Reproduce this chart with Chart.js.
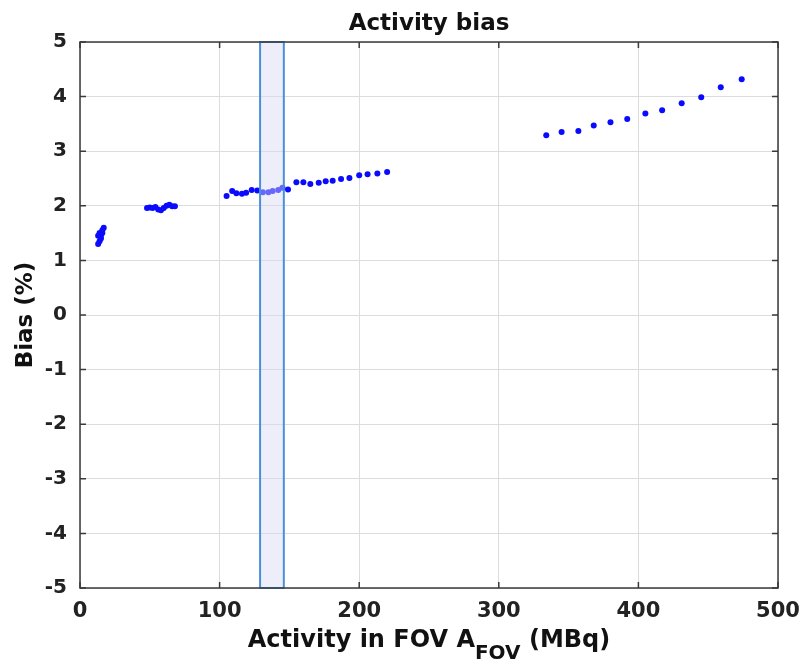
<!DOCTYPE html>
<html>
<head>
<meta charset="utf-8">
<script src="https://cdn.jsdelivr.net/npm/chart.js@4"></script>
<style>
  html, body { margin: 0; padding: 0; background: #fff; }
  canvas { display: block; }
</style>
</head>
<body>
<canvas id="chartBias" width="805" height="669"></canvas>
<script>
// datos
const actividad = [
  13, 14, 13, 15, 16, 17, 14, 15, 16,
  48, 50, 52, 54, 56, 58, 60, 62, 64, 66, 68,
  105, 109, 112, 116, 119, 123, 127, 131, 135, 138, 142, 145, 149, 155, 160, 165, 171, 176, 181, 187, 193, 200, 206, 213, 220,
  334, 345, 357, 368, 380, 392, 405, 417, 431, 445, 459, 474
];
const bias = [
  1.45, 1.35, 1.30, 1.40, 1.50, 1.60, 1.50, 1.45, 1.55,
  1.96, 1.97, 1.96, 1.98, 1.93, 1.92, 1.96, 2.00, 2.02, 1.99, 1.99,
  2.18, 2.27, 2.23, 2.22, 2.24, 2.29, 2.28, 2.25, 2.25, 2.27, 2.29, 2.33, 2.30, 2.43, 2.43, 2.40, 2.42, 2.45, 2.46, 2.49, 2.51, 2.56, 2.58, 2.59, 2.62,
  3.29, 3.35, 3.37, 3.47, 3.53, 3.59, 3.69, 3.75, 3.88, 3.99, 4.17, 4.32
];
const banda = [129, 146]; // zona sombreada (MBq)
const xTicks = [0, 100, 200, 300, 400, 500];
const yTicks = [-5, -4, -3, -2, -1, 0, 1, 2, 3, 4, 5];

const FONT = '"DejaVu Sans", sans-serif';
const puntos = actividad.map((a, i) => ({ x: a, y: bias[i] }));

const decoracion = {
  id: "decoracion",
  afterDatasetsDraw(chart) {
    const { ctx, chartArea: ca, scales } = chart;
    const x0 = scales.x.getPixelForValue(banda[0]);
    const x1 = scales.x.getPixelForValue(banda[1]);
    ctx.save();
    ctx.fillStyle = "rgba(215,218,245,0.45)";
    ctx.fillRect(x0, ca.top, x1 - x0, ca.bottom - ca.top);
    ctx.strokeStyle = "#4a8fdc";
    ctx.lineWidth = 2;
    ctx.strokeRect(x0, ca.top, x1 - x0, ca.bottom - ca.top);

    // caja y ticks hacia adentro
    ctx.strokeStyle = "#3a3a3a";
    ctx.lineWidth = 1.5;
    ctx.strokeRect(ca.left, ca.top, ca.right - ca.left, ca.bottom - ca.top);
    xTicks.forEach((t) => {
      const px = scales.x.getPixelForValue(t);
      ctx.beginPath();
      ctx.moveTo(px, ca.bottom); ctx.lineTo(px, ca.bottom - 6);
      ctx.moveTo(px, ca.top); ctx.lineTo(px, ca.top + 6);
      ctx.stroke();
    });
    yTicks.forEach((t) => {
      const py = scales.y.getPixelForValue(t);
      ctx.beginPath();
      ctx.moveTo(ca.left, py); ctx.lineTo(ca.left + 6, py);
      ctx.moveTo(ca.right, py); ctx.lineTo(ca.right - 6, py);
      ctx.stroke();
    });

    // titulo
    const cx = (ca.left + ca.right) / 2;
    ctx.fillStyle = "#111";
    ctx.textAlign = "center";
    ctx.textBaseline = "alphabetic";
    ctx.font = "bold 23px " + FONT;
    ctx.fillText("Activity bias", cx, 30);

    // eje y
    ctx.save();
    ctx.translate(24, (ca.top + ca.bottom) / 2);
    ctx.rotate(-Math.PI / 2);
    ctx.font = "bold 23px " + FONT;
    ctx.fillText("Bias (%)", 0, 8);
    ctx.restore();

    // eje x con subindice
    const partes = [
      { t: "Activity in FOV A", f: "bold 24px " + FONT, dy: 0 },
      { t: "FOV", f: "bold 20px " + FONT, dy: 12 },
      { t: " (MBq)", f: "bold 24px " + FONT, dy: 0 },
    ];
    let total = 0;
    partes.forEach((p) => { ctx.font = p.f; p.w = ctx.measureText(p.t).width; total += p.w; });
    let xx = cx - total / 2;
    const base = 647;
    ctx.textAlign = "left";
    partes.forEach((p) => {
      ctx.font = p.f;
      ctx.fillText(p.t, xx, base + p.dy);
      xx += p.w;
    });
    ctx.restore();
  },
};

const ctx = document.getElementById("chartBias").getContext("2d");
new Chart(ctx, {
  type: "scatter",
  data: {
    datasets: [{
      label: "Bias",
      data: puntos,
      backgroundColor: "#0a0aff",
      borderColor: "#0a0aff",
      borderWidth: 0,
      pointRadius: 3,
      pointHoverRadius: 3,
    }],
  },
  options: {
    responsive: false,
    animation: false,
    layout: { padding: { left: 0, right: 27, top: 42, bottom: 0 } },
    scales: {
      x: {
        type: "linear",
        min: 0, max: 500,
        afterBuildTicks: (s) => { s.ticks = xTicks.map((v) => ({ value: v })); },
        afterFit: (s) => { s.height = 81; s.paddingLeft = 0; s.paddingRight = 0; },
        border: { display: false },
        grid: { color: "#dcdcdc", lineWidth: 1, drawTicks: false },
        ticks: { color: "#222", padding: 11, font: { family: FONT, size: 21, weight: "bold" } },
      },
      y: {
        type: "linear",
        min: -5, max: 5,
        afterBuildTicks: (s) => { s.ticks = yTicks.map((v) => ({ value: v })); },
        afterFit: (s) => { s.width = 80; s.paddingTop = 0; s.paddingBottom = 0; },
        border: { display: false },
        grid: { color: "#dcdcdc", lineWidth: 1, drawTicks: false },
        ticks: { color: "#222", padding: 13, font: { family: FONT, size: 20, weight: "bold" } },
      },
    },
    plugins: {
      legend: { display: false },
      title: { display: false },
      tooltip: { enabled: false },
    },
  },
  plugins: [decoracion],
});
</script>
</body>
</html>
